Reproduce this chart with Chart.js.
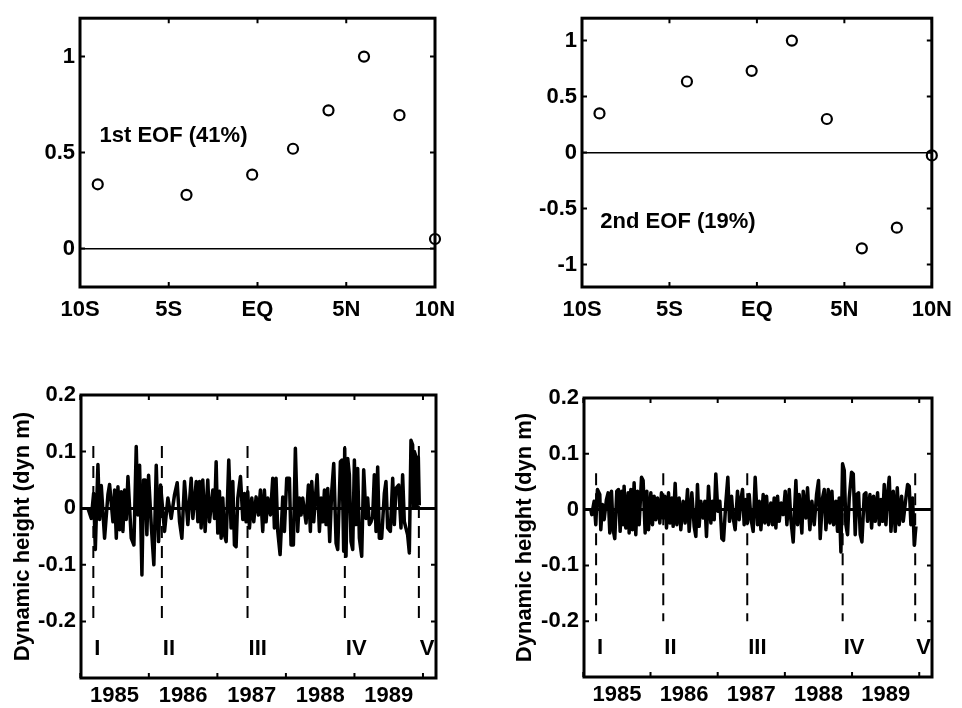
<!DOCTYPE html>
<html>
<head>
<meta charset="utf-8">
<script src="https://cdn.jsdelivr.net/npm/chart.js@4.4.1/dist/chart.umd.min.js"></script>
<style>
    body { margin: 0; background: #fff; }
    #wrap { position: relative; width: 962px; height: 708px; }
    canvas { position: absolute; }
</style>
</head>
<body>
<div id="wrap">
    <canvas id="eof1-chart" width="480" height="340" style="left:0px;top:0px"></canvas>
    <canvas id="eof2-chart" width="482" height="340" style="left:480px;top:0px"></canvas>
    <canvas id="pc1-chart" width="480" height="358" style="left:0px;top:350px"></canvas>
    <canvas id="pc2-chart" width="482" height="358" style="left:480px;top:350px"></canvas>
</div>
<script>
// EOF spatial patterns
const latitudes = [-9, -4, -0.3, 2, 4, 6, 8, 10]
const eof1 = [0.335, 0.28, 0.385, 0.52, 0.72, 1.0, 0.695, 0.05]
const eof2 = [0.35, 0.635, 0.73, 1.0, 0.30, -0.855, -0.67, -0.025]

const latTicks = [-10, -5, 0, 5, 10]
const latTickLabels = ['10S', '5S', 'EQ', '5N', '10N']
const eof1Ticks = [0, 0.5, 1]
const eof1TickLabels = ['0', '0.5', '1']
const eof2Ticks = [-1, -0.5, 0, 0.5, 1]
const eof2TickLabels = ['-1', '-0.5', '0', '0.5', '1']

// time series axes
const dhTicks = [-0.2, -0.1, 0, 0.1, 0.2]
const dhTickLabels = ['-0.2', '-0.1', '0', '0.1', '0.2']
const yearTicks = [1985, 1986, 1987, 1988, 1989, 1990]
const yearLabelPos = [1985.5, 1986.5, 1987.5, 1988.5, 1989.5]
const yearLabels = ['1985', '1986', '1987', '1988', '1989']

// cruises
const cruiseYears = [1985.19, 1986.19, 1987.44, 1988.86, 1989.94]
const cruiseLabels = ['I', 'II', 'III', 'IV', 'V']

// 1st EOF amplitude (dyn m)
const pc1Years = [1985.111, 1985.160, 1985.194, 1985.219, 1985.257, 1985.281, 1985.306, 1985.354, 1985.403, 1985.427,
    1985.476, 1985.500, 1985.525, 1985.549, 1985.573, 1985.597, 1985.622, 1985.646, 1985.670, 1985.695,
    1985.743, 1985.782, 1985.816, 1985.841, 1985.865, 1985.899, 1985.923, 1985.947, 1985.971, 1985.996,
    1986.035, 1986.073, 1986.108, 1986.142, 1986.171, 1986.229, 1986.278, 1986.326, 1986.375, 1986.414,
    1986.448, 1986.482, 1986.520, 1986.569, 1986.618, 1986.642, 1986.691, 1986.715, 1986.739, 1986.763,
    1986.787, 1986.821, 1986.860, 1986.885, 1986.933, 1986.958, 1986.982, 1987.006, 1987.030, 1987.055,
    1987.079, 1987.103, 1987.128, 1987.166, 1987.200, 1987.225, 1987.249, 1987.273, 1987.298, 1987.337,
    1987.371, 1987.395, 1987.419, 1987.443, 1987.468, 1987.502, 1987.531, 1987.565, 1987.599, 1987.628,
    1987.662, 1987.686, 1987.711, 1987.735, 1987.774, 1987.808, 1987.832, 1987.856, 1987.881, 1987.915,
    1987.954, 1987.978, 1988.012, 1988.051, 1988.075, 1988.109, 1988.138, 1988.172, 1988.197, 1988.221,
    1988.245, 1988.294, 1988.328, 1988.357, 1988.377, 1988.406, 1988.430, 1988.455, 1988.489, 1988.513,
    1988.537, 1988.562, 1988.586, 1988.610, 1988.639, 1988.668, 1988.698, 1988.732, 1988.756, 1988.795,
    1988.819, 1988.843, 1988.858, 1988.877, 1988.902, 1988.926, 1988.950, 1988.975, 1988.999, 1989.023,
    1989.047, 1989.072, 1989.106, 1989.135, 1989.169, 1989.193, 1989.218, 1989.242, 1989.266, 1989.290,
    1989.315, 1989.339, 1989.363, 1989.397, 1989.436, 1989.460, 1989.485, 1989.524, 1989.558, 1989.582,
    1989.606, 1989.645, 1989.679, 1989.703, 1989.728, 1989.776, 1989.801, 1989.825, 1989.849, 1989.864,
    1989.874, 1989.898, 1989.913, 1989.932, 1989.946]
const pc1Values = [0, -0.018, 0.026, -0.073, 0.077, -0.02, 0.04, -0.053, 0.024, 0.042,
    -0.024, 0.032, -0.053, 0.038, -0.038, 0.029, -0.041, 0.032, -0.02, 0.056,
    -0.053, -0.065, 0.109, -0.012, 0.076, -0.118, 0.05, 0.05, -0.047, 0.058,
    -0.03, -0.1, 0.076, -0.059, 0.041, -0.041, 0.018, -0.018, 0.024, 0.045,
    -0.024, -0.053, 0.047, -0.029, 0.053, -0.018, 0.047, -0.024, 0.047, -0.035,
    0.05, -0.041, 0.05, -0.024, 0.032, -0.018, 0.082, -0.044, 0.03, -0.053,
    0.018, -0.047, -0.059, 0.085, -0.035, 0.047, -0.065, -0.068, 0.018, 0.056,
    -0.02, 0.026, -0.024, 0.029, -0.035, 0.018, -0.024, 0.02, -0.012, 0.032,
    -0.041, 0.032, -0.024, 0.018, -0.012, 0.053, -0.035, 0.053, -0.041, -0.082,
    0.02, -0.041, 0.053, 0.053, -0.065, -0.065, 0.106, -0.041, 0.018, -0.012,
    0.018, -0.026, 0.041, -0.041, 0.047, -0.024, 0.018, 0.059, -0.041, 0.018,
    -0.024, 0.032, -0.029, 0.035, -0.059, 0.029, 0.079, -0.062, -0.073, 0.082,
    0.085, -0.076, 0.106, -0.085, 0.088, 0.059, -0.059, -0.073, 0.085, -0.029,
    0.07, -0.053, -0.085, 0.068, -0.018, 0.018, -0.029, -0.024, -0.015, 0.059,
    -0.041, 0.073, -0.053, -0.053, 0.026, 0.047, -0.035, -0.041, 0.053, -0.029,
    0.035, 0.041, -0.035, 0.059, -0.024, -0.047, -0.079, 0.12, 0.112, 0.0,
    0.1, 0.091, 0.0, 0.09, 0.005]

// 2nd EOF amplitude (dyn m)
const pc2Years = [1985.111, 1985.126, 1985.161, 1985.185, 1985.210, 1985.245, 1985.260, 1985.285, 1985.310, 1985.344,
    1985.369, 1985.394, 1985.419, 1985.444, 1985.468, 1985.498, 1985.523, 1985.548, 1985.573, 1985.592,
    1985.607, 1985.632, 1985.667, 1985.682, 1985.707, 1985.731, 1985.756, 1985.781, 1985.806, 1985.831,
    1985.866, 1985.890, 1985.920, 1985.945, 1985.970, 1986.005, 1986.029, 1986.054, 1986.079, 1986.104,
    1986.139, 1986.163, 1986.188, 1986.213, 1986.238, 1986.268, 1986.288, 1986.317, 1986.337, 1986.367,
    1986.392, 1986.426, 1986.451, 1986.486, 1986.516, 1986.551, 1986.575, 1986.615, 1986.650, 1986.675,
    1986.699, 1986.724, 1986.749, 1986.784, 1986.809, 1986.833, 1986.863, 1986.898, 1986.923, 1986.948,
    1986.972, 1987.002, 1987.032, 1987.062, 1987.087, 1987.121, 1987.151, 1987.176, 1987.206, 1987.231,
    1987.260, 1987.295, 1987.320, 1987.345, 1987.370, 1987.394, 1987.419, 1987.444, 1987.469, 1987.494,
    1987.528, 1987.558, 1987.593, 1987.618, 1987.643, 1987.677, 1987.702, 1987.727, 1987.757, 1987.791,
    1987.816, 1987.841, 1987.866, 1987.891, 1987.916, 1987.945, 1987.975, 1988.005, 1988.030, 1988.065,
    1988.089, 1988.124, 1988.164, 1988.189, 1988.213, 1988.253, 1988.273, 1988.313, 1988.337, 1988.372,
    1988.402, 1988.437, 1988.472, 1988.501, 1988.526, 1988.561, 1988.586, 1988.611, 1988.645, 1988.670,
    1988.700, 1988.725, 1988.759, 1988.784, 1988.809, 1988.834, 1988.859, 1988.884, 1988.908, 1988.933,
    1988.958, 1988.993, 1989.018, 1989.047, 1989.072, 1989.097, 1989.122, 1989.147, 1989.181, 1989.206,
    1989.231, 1989.266, 1989.291, 1989.320, 1989.345, 1989.380, 1989.405, 1989.430, 1989.454, 1989.479,
    1989.504, 1989.529, 1989.554, 1989.579, 1989.613, 1989.643, 1989.673, 1989.702, 1989.737, 1989.762,
    1989.802, 1989.827, 1989.851, 1989.876, 1989.901, 1989.926, 1989.951]
const pc2Values = [0, -0.009, 0.015, -0.027, 0.036, 0.027, -0.036, 0.009, -0.018, 0.018,
    0.03, -0.042, 0.033, -0.036, -0.052, 0.033, 0.036, -0.039, 0.033, -0.027,
    0.042, -0.033, 0.03, -0.042, 0.036, -0.036, 0.048, -0.045, 0.033, -0.027,
    0.058, 0.052, -0.042, 0.033, -0.036, 0.03, -0.027, 0.024, -0.018, 0.021,
    -0.024, 0.03, -0.015, 0.024, -0.033, 0.03, -0.024, 0.021, -0.03, 0.047,
    -0.027, 0.021, -0.036, 0.015, -0.024, 0.036, -0.039, 0.03, -0.03, -0.048,
    0.045, -0.03, 0.015, -0.015, 0.015, -0.048, 0.042, -0.024, 0.015, -0.018,
    0.064, -0.003, 0.015, -0.052, -0.055, 0.012, 0.058, -0.021, 0.024, -0.015,
    -0.036, 0.033, -0.018, 0.018, 0.036, -0.027, 0.018, -0.024, 0.027, -0.015,
    -0.039, 0.058, -0.027, 0.015, -0.036, 0.027, -0.024, 0.024, -0.027, 0.012,
    -0.027, 0.021, -0.033, 0.024, -0.021, 0.012, -0.009, 0.033, -0.027, 0.036,
    -0.018, -0.058, 0.052, -0.027, 0.027, -0.042, 0.033, -0.015, 0.039, -0.036,
    0.015, -0.027, 0.027, 0.052, -0.052, 0.021, 0.036, -0.036, 0.036, -0.024,
    0.033, -0.027, 0.015, -0.039, 0.021, -0.076, 0.082, 0.07, -0.027, -0.045,
    0.021, 0.067, 0.064, -0.045, 0.027, 0.03, -0.045, -0.058, 0.027, 0.03,
    -0.021, 0.027, -0.033, 0.024, -0.021, 0.03, -0.027, 0.018, -0.021, 0.045,
    -0.027, 0.027, 0.058, -0.039, 0.033, -0.039, 0.039, -0.027, 0.024, -0.021,
    0.021, 0.045, 0.042, -0.027, 0.021, -0.064, -0.03]

const FONT = '"Liberation Sans", Arial, Helvetica, sans-serif'
Chart.defaults.font.family = FONT
Chart.defaults.font.size = 22
Chart.defaults.font.weight = 'bold'
Chart.defaults.color = '#000'

// box, inward ticks and text notes
const framePlugin = {
    id: 'frame',
    afterDatasetsDraw(chart, args, opts) {
        const ctx = chart.ctx
        const a = chart.chartArea
        const xs = chart.scales.x
        const ys = chart.scales.y
        ctx.save()
        ctx.strokeStyle = '#000'
        ctx.lineWidth = 2
        ctx.beginPath()
        opts.xTicks.forEach(v => {
            const px = xs.getPixelForValue(v)
            ctx.moveTo(px, a.top)
            ctx.lineTo(px, a.top + 5)
            ctx.moveTo(px, a.bottom)
            ctx.lineTo(px, a.bottom - 5)
        })
        opts.yTicks.forEach(v => {
            const py = ys.getPixelForValue(v)
            ctx.moveTo(a.left, py)
            ctx.lineTo(a.left + 5, py)
            ctx.moveTo(a.right, py)
            ctx.lineTo(a.right - 5, py)
        })
        ctx.stroke()
        ctx.lineWidth = 3
        ctx.strokeRect(a.left, a.top, a.right - a.left, a.bottom - a.top)

        ctx.fillStyle = '#000'
        ctx.font = 'bold 22px ' + FONT
        ctx.textAlign = 'left'
        ctx.textBaseline = 'middle'
        opts.notes.forEach(n => {
            ctx.fillText(n.text, xs.getPixelForValue(n.x) + (n.dx || 0), ys.getPixelForValue(n.y))
        })
        ctx.restore()
    }
}

function zeroGrid(width) {
    return {
        drawTicks: false,
        lineWidth: width,
        color: c => (c.tick && c.tick.value === 0) ? '#000' : 'rgba(0,0,0,0)'
    }
}

function eofChart(canvasId, values, yMin, yMax, yTicks, yLabels, yWidth, rightPad, note) {
    new Chart(document.querySelector(canvasId).getContext('2d'), {
        type: 'scatter',
        data: {
            datasets: [{
                data: latitudes.map((lat, i) => ({ x: lat, y: values[i] })),
                pointRadius: 5,
                pointBorderWidth: 2.2,
                borderColor: '#000',
                backgroundColor: 'rgba(0,0,0,0)',
                clip: false
            }]
        },
        options: {
            responsive: false,
            animation: false,
            devicePixelRatio: 1,
            events: [],
            layout: { padding: { top: 8, right: rightPad, left: 0, bottom: 0 }, autoPadding: false },
            plugins: {
                legend: { display: false },
                tooltip: { enabled: false },
                frame: { xTicks: latTicks, yTicks: yTicks, notes: [note] }
            },
            scales: {
                x: {
                    type: 'linear', min: -10, max: 10,
                    afterBuildTicks: s => { s.ticks = latTicks.map(v => ({ value: v })) },
                    afterFit: s => { s.height = 53 },
                    ticks: { callback: (v, i) => latTickLabels[i], padding: 10, autoSkip: false, maxRotation: 0 },
                    grid: { display: false, drawTicks: false },
                    border: { display: false }
                },
                y: {
                    min: yMin, max: yMax,
                    afterBuildTicks: s => { s.ticks = yTicks.map(v => ({ value: v })) },
                    afterFit: s => { s.width = yWidth },
                    ticks: { callback: (v, i) => yLabels[i], padding: 5, autoSkip: false },
                    grid: zeroGrid(1.5),
                    border: { display: false }
                }
            }
        },
        plugins: [framePlugin]
    })
}

function pcChart(canvasId, years, values, dashTop, yWidth, topPad, rightPad, xHeight, titlePad) {
    const series = {
        data: years.map((t, i) => ({ x: t, y: values[i] })),
        showLine: true,
        borderColor: '#000',
        borderWidth: 3.5,
        borderJoinStyle: 'round',
        pointRadius: 0,
        tension: 0,
        order: 0
    }
    const cruises = cruiseYears.map(t => ({
        data: [{ x: t, y: dashTop }, { x: t, y: -0.2 }],
        showLine: true,
        borderColor: '#000',
        borderWidth: 2,
        borderDash: [12, 8],
        pointRadius: 0,
        order: 1
    }))
    new Chart(document.querySelector(canvasId).getContext('2d'), {
        type: 'scatter',
        data: { datasets: [series].concat(cruises) },
        options: {
            responsive: false,
            animation: false,
            devicePixelRatio: 1,
            events: [],
            layout: { padding: { top: topPad, right: rightPad, left: 0, bottom: 0 }, autoPadding: false },
            plugins: {
                legend: { display: false },
                tooltip: { enabled: false },
                frame: {
                    xTicks: yearTicks,
                    yTicks: dhTicks,
                    notes: cruiseYears.map((t, i) => ({ x: t, y: -0.248, text: cruiseLabels[i], dx: 1 }))
                }
            },
            scales: {
                x: {
                    type: 'linear', min: 1985.01, max: 1990.19,
                    afterBuildTicks: s => { s.ticks = yearLabelPos.map(v => ({ value: v })) },
                    afterFit: s => { s.height = xHeight },
                    ticks: { callback: (v, i) => yearLabels[i], padding: 5, autoSkip: false, maxRotation: 0 },
                    grid: { display: false, drawTicks: false },
                    border: { display: false }
                },
                y: {
                    min: -0.3, max: 0.2,
                    afterBuildTicks: s => { s.ticks = dhTicks.map(v => ({ value: v })) },
                    afterFit: s => { s.width = yWidth },
                    ticks: { callback: (v, i) => dhTickLabels[i], padding: 5, autoSkip: false },
                    title: { display: true, text: 'Dynamic height (dyn m)', padding: { top: titlePad, bottom: 0 } },
                    grid: zeroGrid(3),
                    border: { display: false }
                }
            }
        },
        plugins: [framePlugin]
    })
}

eofChart('#eof1-chart', eof1, -0.2, 1.2, eof1Ticks, eof1TickLabels, 80, 45,
    { x: -8.9, y: 0.585, text: '1st EOF (41%)' })
eofChart('#eof2-chart', eof2, -1.2, 1.2, eof2Ticks, eof2TickLabels, 102, 30,
    { x: -8.95, y: -0.615, text: '2nd EOF (19%)' })

pcChart('#pc1-chart', pc1Years, pc1Values, 0.11, 81, 45, 44, 30, 10)
pcChart('#pc2-chart', pc2Years, pc2Values, 0.065, 104, 48, 30, 31, 32)
</script>
</body>
</html>
